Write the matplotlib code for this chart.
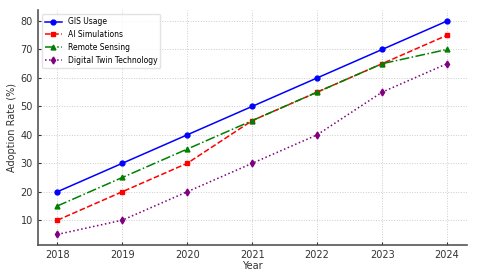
import matplotlib
matplotlib.use('Agg')
import matplotlib.pyplot as plt

anos = [2018, 2019, 2020, 2021, 2022, 2023, 2024]
gis = [20, 30, 40, 50, 60, 70, 80]
ai_sim = [10, 20, 30, 45, 55, 65, 75]
remote = [15, 25, 35, 45, 55, 65, 70]
twin = [5, 10, 20, 30, 40, 55, 65]

fig = plt.figure(figsize=(4.8, 2.72), dpi=100)
ax = fig.add_axes([0.079, 0.099, 0.893, 0.863])

ax.plot(anos, gis, color='blue', linestyle='-', marker='o', markersize=3.5, linewidth=1.1, label='GIS Usage')
ax.plot(anos, ai_sim, color='red', linestyle='--', marker='s', markersize=3.5, linewidth=1.1, label='AI Simulations')
ax.plot(anos, remote, color='green', linestyle='-.', marker='^', markersize=3.5, linewidth=1.1, label='Remote Sensing')
ax.plot(anos, twin, color='purple', linestyle=':', marker='d', markersize=3.5, linewidth=1.1, label='Digital Twin Technology')

ax.set_xlabel('Year', fontsize=7, color='#333333', labelpad=1)
ax.set_ylabel('Adoption Rate (%)', fontsize=7, color='#333333', labelpad=3)
ax.tick_params(labelsize=7, colors='#333333', direction='in', length=2)
ax.grid(True, linestyle=':', color='#cccccc', linewidth=0.7)

for lado in ['top', 'right']:
    ax.spines[lado].set_visible(False)
for lado in ['left', 'bottom']:
    ax.spines[lado].set_color('#555555')
    ax.spines[lado].set_linewidth(1.2)

ax.legend(loc='upper left', fontsize=5.5, frameon=True, edgecolor='#dddddd', handlelength=2.2)

fig.savefig('out.png', dpi=100)
